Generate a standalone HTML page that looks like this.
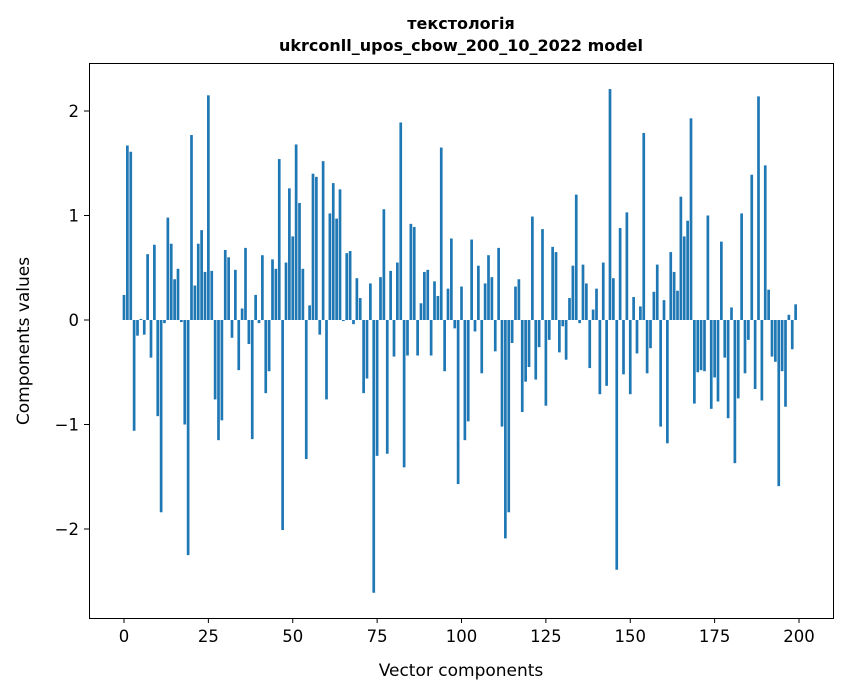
<!DOCTYPE html>
<html><head><meta charset="utf-8"><style>
body{margin:0;background:#fff;}
svg{display:block;font-family:"DejaVu Sans","Liberation Sans",sans-serif;}
</style></head><body>
<svg id="chart" width="847" height="696" xmlns="http://www.w3.org/2000/svg">
<rect width="847" height="696" fill="#fff"/>
<text x="461" y="29" text-anchor="middle" font-size="16" font-weight="bold">текстологія</text>
<text x="461" y="51" text-anchor="middle" font-size="16" font-weight="bold">ukrconll_upos_cbow_200_10_2022 model</text>
<g id="bars"></g>
<g id="axes"></g>
<rect x="89.5" y="63.5" width="744" height="555" fill="none" stroke="#000" stroke-width="1"/>
<text x="461" y="676" text-anchor="middle" font-size="17">Vector components</text>
<text transform="translate(29,341) rotate(-90)" text-anchor="middle" font-size="17">Components values</text>
</svg>
<script>
const values = [0.24,1.67,1.61,-1.06,-0.15,0.01,-0.14,0.63,-0.36,0.72,
-0.92,-1.84,-0.03,0.98,0.73,0.39,0.49,-0.02,-1.00,-2.25,
1.77,0.33,0.73,0.86,0.46,2.15,0.47,-0.76,-1.15,-0.96,
0.67,0.60,-0.17,0.48,-0.48,0.11,0.69,-0.23,-1.14,0.24,
-0.03,0.62,-0.70,-0.49,0.58,0.49,1.54,-2.01,0.55,1.26,
0.80,1.68,1.12,0.49,-1.33,0.14,1.40,1.37,-0.14,1.52,
-0.76,1.02,1.31,0.97,1.25,-0.01,0.64,0.66,-0.04,0.40,
0.21,-0.70,-0.56,0.35,-2.61,-1.30,0.41,1.06,-1.28,0.47,
-0.35,0.55,1.89,-1.41,-0.34,0.92,0.89,-0.34,0.16,0.46,
0.48,-0.34,0.37,0.23,1.65,-0.49,0.30,0.78,-0.08,-1.57,
0.32,-1.15,-0.97,0.77,-0.11,0.52,-0.51,0.35,0.62,0.41,
-0.30,0.69,-1.02,-2.09,-1.84,-0.22,0.32,0.39,-0.88,-0.59,
-0.45,0.99,-0.57,-0.26,0.87,-0.82,-0.19,0.70,0.65,-0.31,
-0.06,-0.38,0.21,0.52,1.20,-0.03,0.53,0.35,-0.46,0.10,
0.30,-0.71,0.55,-0.63,2.21,0.40,-2.39,0.88,-0.52,1.03,
-0.71,0.22,-0.32,0.13,1.79,-0.51,-0.27,0.27,0.53,-1.02,
0.19,-1.18,0.65,0.46,0.28,1.18,0.80,0.95,1.93,-0.80,
-0.50,-0.48,-0.49,1.00,-0.85,-0.55,-0.78,0.75,-0.36,-0.94,
0.12,-1.37,-0.75,1.02,-0.51,-0.19,1.39,-0.66,2.14,-0.77,
1.48,0.29,-0.35,-0.40,-1.59,-0.49,-0.83,0.05,-0.28,0.15];
const xTicks = [0,25,50,75,100,125,150,175,200];
const yTicks = [-2,-1,0,1,2];
const yTickLabels = ["\u22122","\u22121","0","1","2"];

const NS="http://www.w3.org/2000/svg";
function xScale(v){return 124 + v*3.375;}
function yScale(v){return 320 - v*104.5;}
const barsG=document.getElementById('bars');
values.forEach((v,i)=>{
  const r=document.createElementNS(NS,'rect');
  
  
  const y0=yScale(0), y1=yScale(v);
  r.setAttribute('x',xScale(i)-1.35);
  r.setAttribute('width',2.7);
  r.setAttribute('y',Math.min(y0,y1));
  r.setAttribute('height',Math.abs(y1-y0));
  r.setAttribute('fill','#1f77b4');
  barsG.appendChild(r);
});
const ax=document.getElementById('axes');
xTicks.forEach(t=>{
  const x=xScale(t);
  const l=document.createElementNS(NS,'line');
  
  
  l.setAttribute('x1',x);l.setAttribute('x2',x);l.setAttribute('y1',618);l.setAttribute('y2',623);
  l.setAttribute('stroke','#000');
  ax.appendChild(l);
  const tx=document.createElementNS(NS,'text');
  
  
  tx.setAttribute('x',x);tx.setAttribute('y',642);
  tx.setAttribute('text-anchor','middle');tx.setAttribute('font-size','16.5');
  tx.textContent=t;
  ax.appendChild(tx);
});
yTicks.forEach((t,i)=>{
  const y=yScale(t);
  const l=document.createElementNS(NS,'line');
  
  
  l.setAttribute('x1',84);l.setAttribute('x2',89);l.setAttribute('y1',y);l.setAttribute('y2',y);
  l.setAttribute('stroke','#000');
  ax.appendChild(l);
  const tx=document.createElementNS(NS,'text');
  
  
  tx.setAttribute('x',79);tx.setAttribute('y',y+6);
  tx.setAttribute('text-anchor','end');tx.setAttribute('font-size','16.5');
  tx.textContent=yTickLabels[i];
  ax.appendChild(tx);
});
</script>
</body></html>
